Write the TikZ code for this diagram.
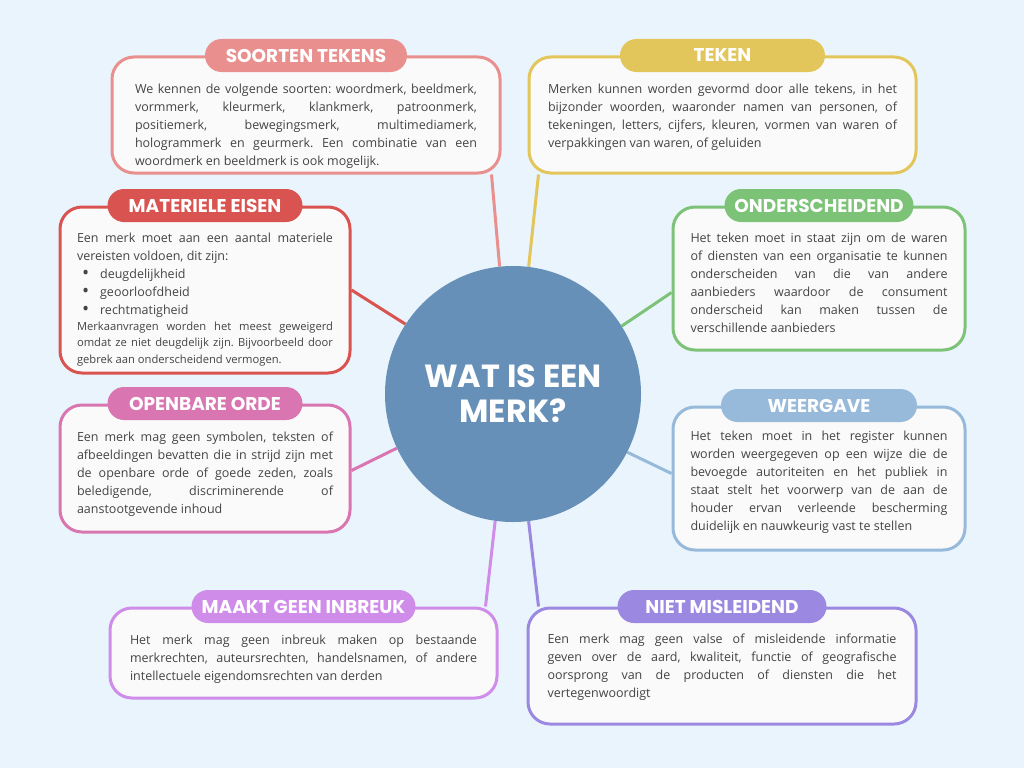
\documentclass[tikz,border=0pt]{standalone}
\usepackage{fontspec}
\setmainfont{Open Sans}
\newfontfamily\headfont{Poppins}
\usetikzlibrary{positioning}
\setlength{\parindent}{0pt}
\setlength{\parskip}{0pt}
\hyphenpenalty=10000
\exhyphenpenalty=10000
\tolerance=9999
\frenchspacing

\pgfdeclarelayer{back}
\pgfdeclarelayer{links}
\pgfsetlayers{back,links,main}

\definecolor{bgblue}{HTML}{EAF4FC}
\definecolor{cardfill}{HTML}{FAFAFA}
\definecolor{bodytext}{HTML}{444444}
\definecolor{hub}{HTML}{6690B7}
\definecolor{soorten}{HTML}{E9908E}
\definecolor{teken}{HTML}{E3C65B}
\definecolor{materiele}{HTML}{D95450}
\definecolor{onder}{HTML}{7CC377}
\definecolor{openbare}{HTML}{D975B0}
\definecolor{weergave}{HTML}{97BADB}
\definecolor{maakt}{HTML}{CF8DE9}
\definecolor{niet}{HTML}{9B88E0}

\newcommand{\bolletje}{\hspace*{5pt}\raisebox{-1.2pt}{\fontsize{19}{18}\selectfont\textbullet}\hspace{11pt}}

\begin{document}
\begin{tikzpicture}[x=1pt,y=-1pt]
    \tikzstyle{card}=[draw,line width=3pt,rounded corners=22pt,fill=cardfill,inner sep=0pt]
    \tikzstyle{pill}=[rounded corners=16.5pt,minimum height=33pt,inner sep=0pt,text=white,font=\headfont\bfseries\fontsize{18.5}{20}\selectfont]
    \tikzstyle{body}=[anchor=north,inner sep=0pt,align=justify,text=bodytext,font=\fontsize{12.5}{18}\selectfont]
    \tikzstyle{link}=[line width=3pt]

    \useasboundingbox (0,0) rectangle (1024,768);
    \begin{pgfonlayer}{back}
      \fill[bgblue] (0,0) rectangle (1024,768);
    \end{pgfonlayer}

    \node (merk) at (513,394) [circle,fill=hub,minimum size=256pt,inner sep=0pt,text=white,align=center,font=\headfont\bfseries\fontsize{32}{35}\selectfont] {WAT IS EEN\\MERK?};

    % soorten tekens
    \node (soortenbox) at (306,115) [card,draw=soorten,minimum width=388pt,minimum height=116pt] {};
    \node (soortenkop) at (soortenbox.north) [pill,fill=soorten,minimum width=202pt] {SOORTEN TEKENS};
    \node (soortentekst) [body,text width=342pt,below=28pt of soortenbox.north] {We kennen de volgende soorten: woordmerk, beeldmerk,\linebreak vormmerk, kleurmerk, klankmerk, patroonmerk,\linebreak positiemerk, bewegingsmerk, multimediamerk,\linebreak hologrammerk en geurmerk. Een combinatie van een\linebreak woordmerk en beeldmerk is ook mogelijk.};

    % teken
    \node (tekenbox) at (722.5,115) [card,draw=teken,minimum width=387pt,minimum height=116pt] {};
    \node (tekenkop) at (tekenbox.north) [pill,fill=teken,minimum width=205pt] {TEKEN};
    \node (tekentekst) [body,text width=349pt,below=28pt of tekenbox.north] {Merken kunnen worden gevormd door alle tekens, in het\linebreak bijzonder woorden, waaronder namen van personen, of\linebreak tekeningen, letters, cijfers, kleuren, vormen van waren of\linebreak verpakkingen van waren, of geluiden};

    % materiele eisen
    \node (materielebox) at (205,290) [card,draw=materiele,minimum width=290pt,minimum height=166pt] {};
    \node (materielekop) at (materielebox.north) [pill,fill=materiele,minimum width=195pt] {MATERIELE EISEN};
    \node (materieletekst) [body,text width=256pt,below=27pt of materielebox.north] {Een merk moet aan een aantal materiele\linebreak vereisten voldoen, dit zijn:\par
      \bolletje deugdelijkheid\par
      \bolletje geoorloofdheid\par
      \bolletje rechtmatigheid\par
      {\fontsize{11.2}{16.3}\selectfont Merkaanvragen worden het meest geweigerd\linebreak omdat ze niet deugdelijk zijn. Bijvoorbeeld door\linebreak gebrek aan onderscheidend vermogen.\par}};

    % onderscheidend
    \node (onderbox) at (819,278.5) [card,draw=onder,minimum width=292pt,minimum height=143pt] {};
    \node (onderkop) at (onderbox.north) [pill,fill=onder,minimum width=189pt] {ONDERSCHEIDEND};
    \node (ondertekst) [body,text width=257pt,below=27pt of onderbox.north] {Het teken moet in staat zijn om de waren\linebreak of diensten van een organisatie te kunnen\linebreak onderscheiden van die van andere\linebreak aanbieders waardoor de consument\linebreak onderscheid kan maken tussen de\linebreak verschillende aanbieders};

    % openbare orde
    \node (openbarebox) at (205,468.5) [card,draw=openbare,minimum width=290pt,minimum height=127pt] {};
    \node (openbarekop) at (openbarebox.north) [pill,fill=openbare,minimum width=195pt] {OPENBARE ORDE};
    \node (openbaretekst) [body,text width=256pt,below=28pt of openbarebox.north] {Een merk mag geen symbolen, teksten of\linebreak afbeeldingen bevatten die in strijd zijn met\linebreak de openbare orde of goede zeden, zoals\linebreak beledigende, discriminerende of\linebreak aanstootgevende inhoud};

    % weergave
    \node (weergavebox) at (819,478.5) [card,draw=weergave,minimum width=292pt,minimum height=143pt] {};
    \node (weergavekop) at (weergavebox.north) [pill,fill=weergave,minimum width=196pt] {WEERGAVE};
    \node (weergavetekst) [body,text width=257pt,below=25pt of weergavebox.north] {Het teken moet in het register kunnen\linebreak worden weergegeven op een wijze die de\linebreak bevoegde autoriteiten en het publiek in\linebreak staat stelt het voorwerp van de aan de\linebreak houder ervan verleende bescherming\linebreak duidelijk en nauwkeurig vast te stellen};

    % maakt geen inbreuk
    \node (maaktbox) at (303.5,653) [card,draw=maakt,minimum width=387pt,minimum height=90pt] {};
    \node (maaktkop) at (maaktbox.north) [pill,fill=maakt,minimum width=224pt] {MAAKT GEEN INBREUK};
    \node (maakttekst) [body,text width=347pt,below=28pt of maaktbox.north] {Het merk mag geen inbreuk maken op bestaande\linebreak merkrechten, auteursrechten, handelsnamen, of andere\linebreak intellectuele eigendomsrechten van derden};

    % niet misleidend
    \node (nietbox) at (722,666) [card,draw=niet,minimum width=388pt,minimum height=116pt] {};
    \node (nietkop) at (nietbox.north) [pill,fill=niet,minimum width=209pt] {NIET MISLEIDEND};
    \node (niettekst) [body,text width=349pt,below=27pt of nietbox.north] {Een merk mag geen valse of misleidende informatie\linebreak geven over de aard, kwaliteit, functie of geografische\linebreak oorsprong van de producten of diensten die het\linebreak vertegenwoordigt};

    \begin{pgfonlayer}{links}
      \draw[link,draw=soorten] (merk.96) -- ([xshift=-10pt]soortenbox.south east);
      \draw[link,draw=teken] (merk.83) -- ([xshift=11pt]tekenbox.south west);
      \draw[link,draw=materiele] (merk.147) -- (materielebox.east);
      \draw[link,draw=onder] (merk.32) -- ([yshift=-14pt]onderbox.west);
      \draw[link,draw=openbare] (merk.205) -- ([yshift=-2pt]openbarebox.east);
      \draw[link,draw=weergave] (merk.333) -- ([yshift=5pt]weergavebox.west);
      \draw[link,draw=maakt] (merk.262) -- ([xshift=-13pt]maaktbox.north east);
      \draw[link,draw=niet] (merk.277) -- ([xshift=12pt]nietbox.north west);
    \end{pgfonlayer}
\end{tikzpicture}
\end{document}
